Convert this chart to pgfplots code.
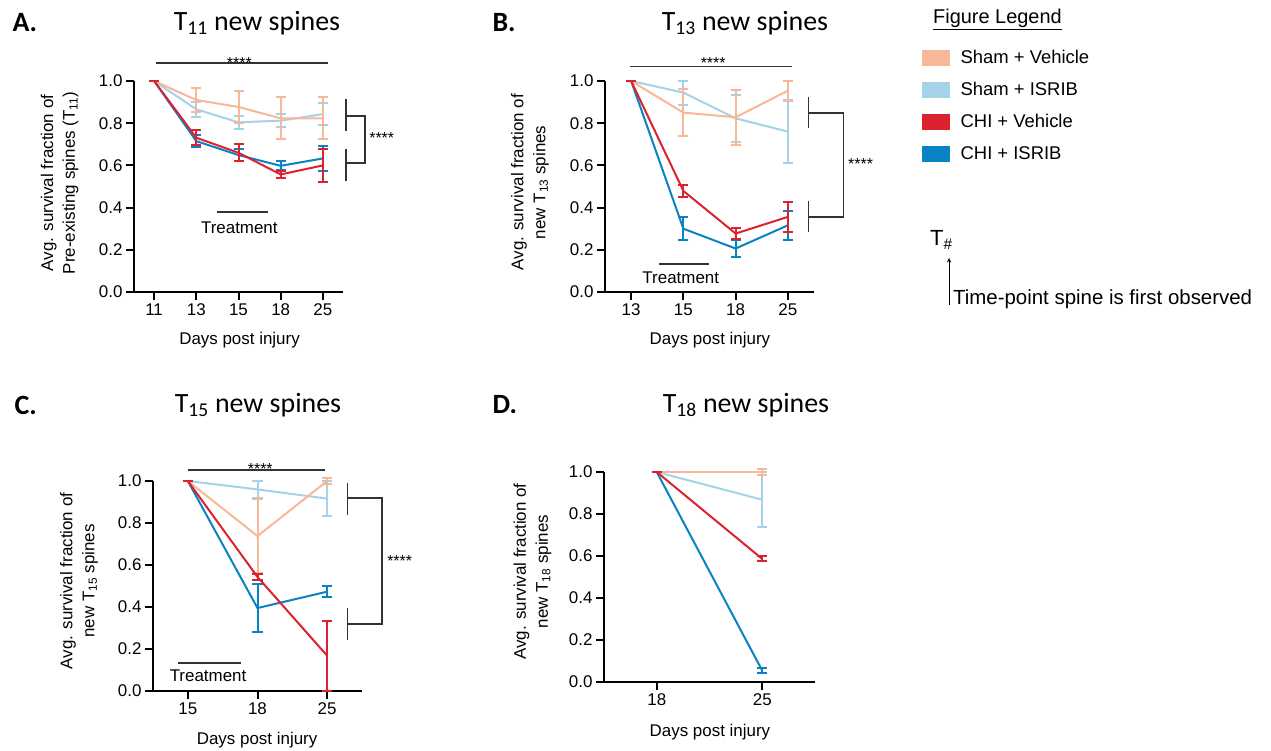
\documentclass[border=0pt]{standalone}
\usepackage{pgfplots}
\pgfplotsset{compat=1.18}
\usepackage{fontspec}
\setmainfont{Liberation Sans}
\newfontfamily\calibri{Carlito}

\definecolor{shamveh}{HTML}{F8B796}
\definecolor{shamisr}{HTML}{A4D3E9}
\definecolor{chiveh}{HTML}{DB222E}
\definecolor{chiisr}{HTML}{0A82C3}
\definecolor{annot}{HTML}{333333}

\tikzset{
  ann/.style={annot, line width=1.5bp},
  stars/.style={font=\fontsize{16}{16}\selectfont, inner sep=0pt},
  treat/.style={font=\fontsize{17}{20}\selectfont, inner sep=0pt},
}

\pgfplotsset{
  panel/.style={
    scale only axis, clip=false,
    axis lines=left, axis line style={-, line width=2bp, black},
    tick align=outside, major tick length=8bp,
    tick style={black, line width=2bp},
    ymin=0, ymax=1, ytick={0,0.2,0.4,0.6,0.8,1},
    yticklabel style={/pgf/number format/fixed, /pgf/number format/fixed zerofill, /pgf/number format/precision=1},
    /pgf/number format/assume math mode=true,
    tick label style={font=\fontsize{17}{20}\selectfont},
    label style={font=\fontsize{17}{22}\selectfont},
    ylabel style={align=center, anchor=center},
    xlabel={Days post injury},
    xlabel style={anchor=center},
  },
  ebar/.style={line width=2bp, no markers,
    error bars/y dir=both, error bars/y explicit,
    error bars/error bar style={line width=2bp},
    error bars/error mark options={rotate=90, line width=2bp, mark size=5bp}},
  sv/.style={shamveh, ebar},
  si/.style={shamisr, ebar},
  cv/.style={chiveh, ebar},
  ci/.style={chiisr, ebar},
  sq/.style={legend image code/.code={\fill[#1] (0bp,-7.5bp) rectangle (27bp,7.5bp); \path (36bp,0bp);}},
}

\begin{document}
\begin{tikzpicture}
\useasboundingbox (0bp,0bp) rectangle (1271bp,751bp);

% ---------------- Panel A ----------------
\begin{axis}[panel, at={(134bp,459bp)}, anchor=south west, width=209bp, height=211bp,
  xmin=-0.476, xmax=4.476, xtick={0,1,2,3,4}, xticklabels={11,13,15,18,25},
  ylabel={Avg. survival fraction of\\Pre-existing spines (T\textsubscript{11})},
  ylabel style={at={(axis description cs:-0.356,0.517)}},
  xlabel style={at={(axis description cs:0.505,-0.227)}}]
\addplot[si] coordinates {(0,1) +- (0,0) (1,0.866) +- (0,0.035) (2,0.804) +- (0,0.03) (3,0.812) +- (0,0.03) (4,0.843) +- (0,0.053)};
\addplot[sv] coordinates {(0,1) +- (0,0) (1,0.91) +- (0,0.055) (2,0.877) +- (0,0.075) (3,0.823) +- (0,0.10) (4,0.823) +- (0,0.10)};
\addplot[ci] coordinates {(0,1) +- (0,0) (1,0.715) +- (0,0.03) (2,0.649) +- (0,0.03) (3,0.598) +- (0,0.022) (4,0.633) +- (0,0.06)};
\addplot[cv] coordinates {(0,1) +- (0,0) (1,0.731) +- (0,0.035) (2,0.66) +- (0,0.04) (3,0.557) +- (0,0.015) (4,0.60) +- (0,0.08)};
\draw[ann] (axis cs:0.05,1.085) -- (axis cs:4.12,1.085);
\node[stars, anchor=base] at (axis cs:2.02,1.058) {****};
\draw[ann] (axis cs:4.55,0.915) -- (axis cs:4.55,0.763);
\draw[ann] (axis cs:4.55,0.678) -- (axis cs:4.55,0.526);
\draw[ann] (axis cs:4.55,0.834) -- (axis cs:5.0,0.834) -- (axis cs:5.0,0.611) -- (axis cs:4.55,0.611);
\node[stars, anchor=base west] at (axis cs:5.095,0.703) {****};
\draw[ann] (axis cs:1.48,0.379) -- (axis cs:2.69,0.379);
\node[treat] at (axis cs:2.02,0.303) {Treatment};
\end{axis}

% ---------------- Panel B ----------------
\begin{axis}[panel, at={(605bp,459bp)}, anchor=south west, width=209bp, height=211bp,
  xmin=-0.5, xmax=3.5, xtick={0,1,2,3}, xticklabels={13,15,18,25},
  ylabel={Avg. survival fraction of\\new T\textsubscript{13} spines},
  ylabel style={at={(axis description cs:-0.359,0.52)}},
  xlabel style={at={(axis description cs:0.502,-0.227)}},
  legend style={at={(axis description cs:1.517,1.158)}, anchor=north west, draw=none, fill=none,
    font=\fontsize{18.5}{22}\selectfont, row sep=13.5bp, inner sep=0pt},
  legend cell align=left]
\addlegendimage{sq=shamveh}
\addlegendentry{Sham + Vehicle}
\addlegendimage{sq=shamisr}
\addlegendentry{Sham + ISRIB}
\addlegendimage{sq=chiveh}
\addlegendentry{CHI + Vehicle}
\addlegendimage{sq=chiisr}
\addlegendentry{CHI + ISRIB}
\addplot[forget plot, si] coordinates {(0,1) +- (0,0) (1,0.945) +- (0,0.057) (2,0.823) +- (0,0.11) (3,0.76) +- (0,0.15)};
\addplot[forget plot, sv] coordinates {(0,1) +- (0,0) (1,0.85) +- (0,0.11) (2,0.828) +- (0,0.13) (3,0.954) +- (0,0.047)};
\addplot[forget plot, ci] coordinates {(0,1) +- (0,0) (1,0.30) +- (0,0.055) (2,0.206) +- (0,0.04) (3,0.316) +- (0,0.07)};
\addplot[forget plot, cv] coordinates {(0,1) +- (0,0) (1,0.479) +- (0,0.03) (2,0.277) +- (0,0.025) (3,0.356) +- (0,0.07)};
\draw[ann] (axis cs:-0.02,1.068) -- (axis cs:3.07,1.068);
\node[stars, anchor=base] at (axis cs:1.57,1.06) {****};
\draw[ann] (axis cs:3.39,0.924) -- (axis cs:3.39,0.777);
\draw[ann] (axis cs:3.39,0.431) -- (axis cs:3.39,0.284);
\draw[ann] (axis cs:3.39,0.848) -- (axis cs:4.06,0.848) -- (axis cs:4.06,0.355) -- (axis cs:3.39,0.355);
\node[stars, anchor=base west] at (axis cs:4.15,0.58) {****};
\draw[ann] (axis cs:0.53,0.133) -- (axis cs:1.49,0.133);
\node[treat] at (axis cs:0.95,0.066) {Treatment};
\end{axis}

% ---------------- Panel C ----------------
\begin{axis}[panel, at={(153bp,60bp)}, anchor=south west, width=209bp, height=210bp,
  xmin=-0.5, xmax=2.5, xtick={0,1,2}, xticklabels={15,18,25},
  ylabel={Avg. survival fraction of\\new T\textsubscript{15} spines},
  ylabel style={at={(axis description cs:-0.354,0.524)}},
  xlabel style={at={(axis description cs:0.498,-0.233)}}]
\addplot[si] coordinates {(0,1) +- (0,0) (1,0.96) +- (0,0.04) (2,0.916) +- (0,0.083)};
\addplot[sv] coordinates {(0,1) +- (0,0) (1,0.738) +- (0,0.178) (2,1.0) +- (0,0.015)};
\addplot[ci] coordinates {(0,1) +- (0,0) (1,0.395) +- (0,0.113) (2,0.473) +- (0,0.025)};
\addplot[cv] coordinates {(0,1) +- (0,0) (1,0.543) +- (0,0.015) (2,0.168) +- (0,0.167)};
\draw[ann] (axis cs:0,1.052) -- (axis cs:1.97,1.052);
\node[stars, anchor=base] at (axis cs:1.04,1.031) {****};
\draw[ann] (axis cs:2.29,0.99) -- (axis cs:2.29,0.838);
\draw[ann] (axis cs:2.29,0.395) -- (axis cs:2.29,0.243);
\draw[ann] (axis cs:2.29,0.919) -- (axis cs:2.79,0.919) -- (axis cs:2.79,0.319) -- (axis cs:2.29,0.319);
\node[stars, anchor=base west] at (axis cs:2.86,0.595) {****};
\draw[ann] (axis cs:-0.14,0.133) -- (axis cs:0.76,0.133);
\node[treat] at (axis cs:0.29,0.071) {Treatment};
\end{axis}

% ---------------- Panel D ----------------
\begin{axis}[panel, at={(604bp,69bp)}, anchor=south west, width=211bp, height=210bp,
  xmin=-0.5, xmax=1.5, xtick={0,1}, xticklabels={18,25},
  ylabel={Avg. survival fraction of\\new T\textsubscript{18} spines},
  ylabel style={at={(axis description cs:-0.339,0.526)}},
  xlabel style={at={(axis description cs:0.502,-0.238)}}]
\addplot[si] coordinates {(0,1) +- (0,0) (1,0.868) +- (0,0.13)};
\addplot[sv] coordinates {(0,1) +- (0,0) (1,1.0) +- (0,0.015)};
\addplot[ci] coordinates {(0,1) +- (0,0) (1,0.054) +- (0,0.012)};
\addplot[cv] coordinates {(0,1) +- (0,0) (1,0.586) +- (0,0.012)};
\end{axis}

% ---------------- Titles ----------------
\node[anchor=west, font=\calibri\bfseries\fontsize{28}{30}\selectfont] at (9bp,728bp) {A.};
\node[font=\calibri\fontsize{28}{30}\selectfont] at (257bp,728bp) {T\textsubscript{11} new spines};
\node[anchor=west, font=\calibri\bfseries\fontsize{28}{30}\selectfont] at (489bp,728bp) {B.};
\node[font=\calibri\fontsize{28}{30}\selectfont] at (745bp,728bp) {T\textsubscript{13} new spines};
\node[anchor=west, font=\calibri\bfseries\fontsize{28}{30}\selectfont] at (11bp,346bp) {C.};
\node[font=\calibri\fontsize{28}{30}\selectfont] at (258bp,346bp) {T\textsubscript{15} new spines};
\node[anchor=west, font=\calibri\bfseries\fontsize{28}{30}\selectfont] at (489bp,346bp) {D.};
\node[font=\calibri\fontsize{28}{30}\selectfont] at (746bp,346bp) {T\textsubscript{18} new spines};

% ---------------- Legend heading and T# note ----------------
\node[anchor=base west, inner sep=0pt, font=\fontsize{20}{24}\selectfont] at (933bp,727bp) {\underline{Figure Legend}};
\node[anchor=base west, inner sep=0pt, font=\fontsize{22}{24}\selectfont] at (930bp,505bp) {T\textsubscript{\#}};
\draw[-stealth, line width=1bp] (949bp,446bp) -- (949bp,493bp);
\node[anchor=base west, inner sep=0pt, font=\fontsize{20.5}{24}\selectfont] at (953bp,446bp) {Time-point spine is first observed};
\end{tikzpicture}
\end{document}
